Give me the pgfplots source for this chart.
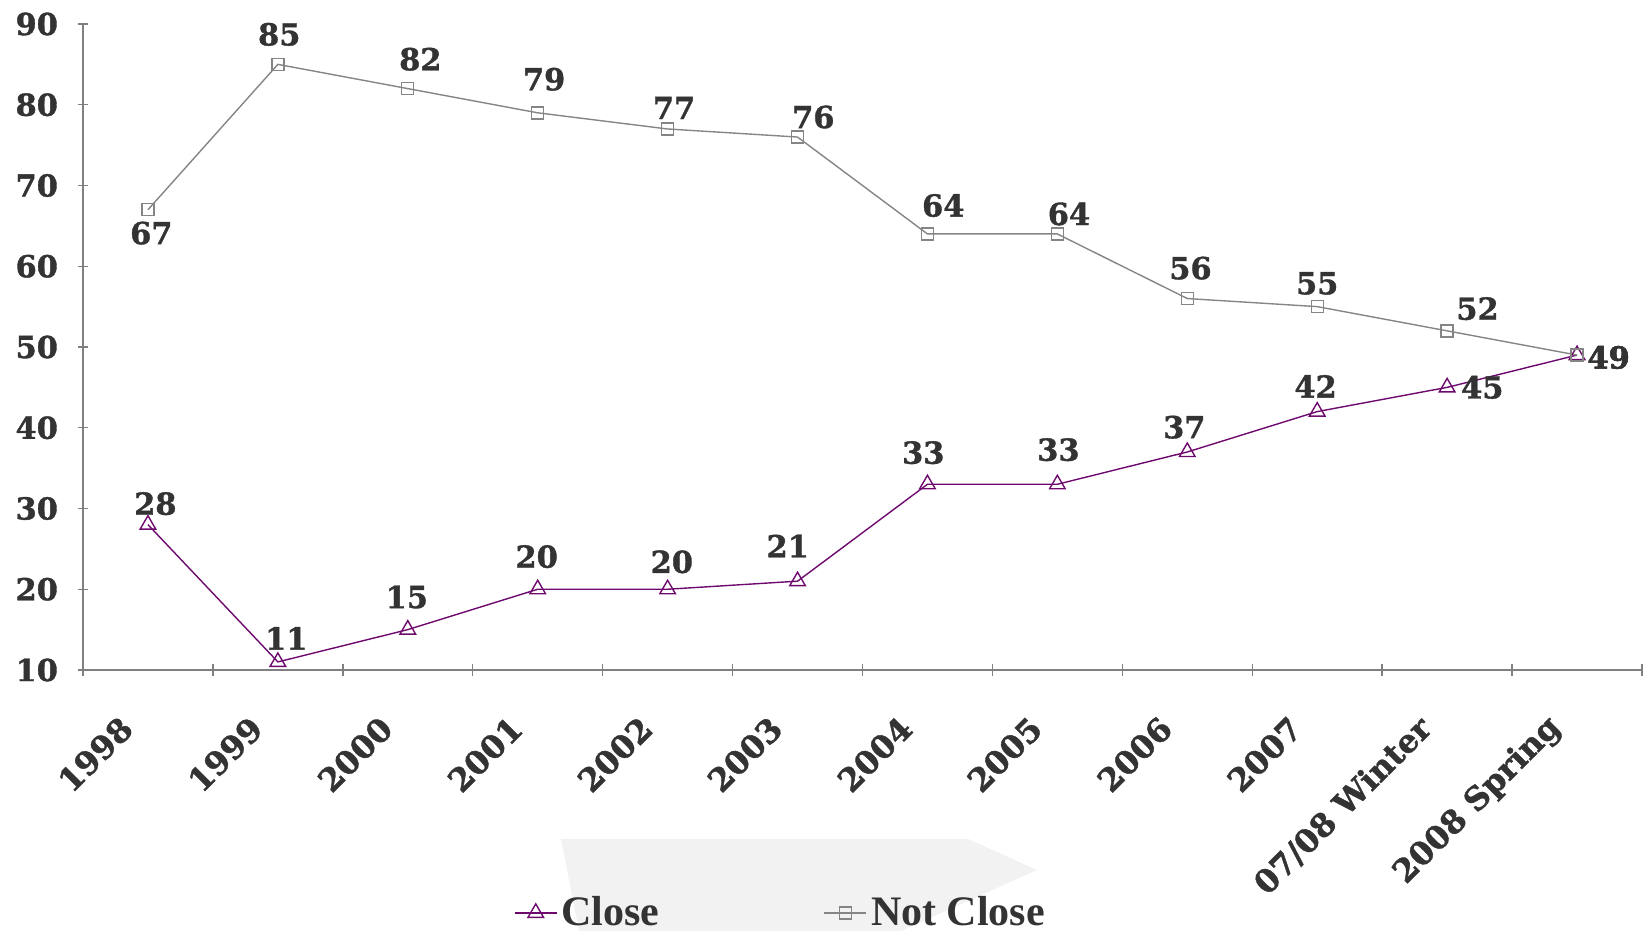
\documentclass[border=0pt]{standalone}
\usepackage{fontspec}
\setmainfont{DejaVu Serif}[BoldFeatures={FakeBold=1.2}]
\newfontfamily\legserif{Liberation Serif}
\usepackage{pgfplots}
\usepackage{pgfplotstable}
\pgfplotsset{compat=1.18}
\definecolor{closecol}{HTML}{6E0A6E}
\definecolor{notcol}{HTML}{858585}
\definecolor{axisgray}{HTML}{808080}
\definecolor{textcol}{HTML}{333333}
\definecolor{deco}{HTML}{F2F2F2}
\newcommand\labfont{\fontsize{15.2}{17}\selectfont\bfseries}
\newcommand\xlabfont{\fontsize{16}{18}\selectfont\bfseries}
\newcommand\legfont{\legserif\fontsize{21}{24}\selectfont\bfseries}

\pgfplotstableread{
x y dx dy
0 28 3.7 10.5
1 11 4.2 11.8
2 15 -0.5 16.3
3 20 -0.5 16.3
4 20 2.1 13.7
5 21 -4.9 17.6
6 33 -2.1 15.8
7 33 0.5 17.3
8 37 -1.5 12.4
9 42 -0.8 12.6
10 45 17.6 0
11 49 15.8 -1.2
}\closetab

\pgfplotstableread{
x y dx dy
0 67 1.7 -11.7
1 85 0.7 15
2 82 6.3 14.7
3 79 3.2 16.8
4 77 3.2 10.5
5 76 7.9 10
6 64 7.9 14.2
7 64 5.8 10
8 56 1.6 15.2
9 55 0 11.6
10 52 15.2 11.1
11 49 15.8 -1.2
}\notclosetab

\begin{document}
\begin{tikzpicture}
\useasboundingbox (-41.5pt,-130.5pt) rectangle (781pt,335pt);
\fill[deco] (239pt,-84.5pt) -- (442.5pt,-84.5pt) -- (477pt,-100pt) -- (409pt,-130.5pt) -- (248pt,-130.5pt) -- cycle;
\begin{axis}[
  at={(0,0)}, anchor=south west,
  scale only axis,
  width=779.5pt, height=323pt,
  xmin=-0.5, xmax=11.5,
  ymin=10, ymax=90,
  ytick={10,20,...,90},
  xtick={0,...,11},
  xticklabels={1998,1999,2000,2001,2002,2003,2004,2005,2006,2007,07/08 Winter,2008 Spring},
  minor xtick={-0.5,0.5,...,11.5},
  major x tick style={draw=none},
  minor x tick style={draw=axisgray, line width=0.7pt},
  major tick length=4.7pt,
  minor tick length=6pt,
  tick align=outside,
  ytick style={draw=axisgray, line width=0.7pt},
  axis lines=left,
  axis line style={-, draw=axisgray, line width=0.7pt},
  /pgf/number format/assume math mode=true,
  yticklabel style={font=\labfont, text=textcol, anchor=east, inner sep=0pt, xshift=-10pt},
  xticklabel style={font=\xlabfont, text=textcol, inner sep=0pt, xshift=-10.5pt, yshift=-24pt, rotate=45, anchor=east},
  clip=false,
  legend columns=2,
  legend style={draw=none, fill=none, at={(0.448,-0.376)}, anchor=center, font=\legfont, text=textcol,
    /tikz/every even column/.append style={column sep=80pt}},
  legend image code/.code={\draw[mark repeat=2,mark phase=2] plot coordinates {(0cm,0cm) (0.37cm,0cm) (0.74cm,0cm)};},
]
\addplot[color=closecol, line width=0.7pt, mark=triangle, mark size=4.5pt, mark options={solid},
  visualization depends on={\thisrow{dx}\as\dx},
  visualization depends on={\thisrow{dy}\as\dy},
  nodes near coords,
  nodes near coords style={font=\labfont, text=textcol, anchor=center, inner sep=0pt, xshift=\dx pt, yshift=\dy pt}]
  table[x=x,y=y] {\closetab};
\addlegendentry{Close}
\addplot[color=notcol, line width=0.7pt, mark=square, mark size=3pt, mark options={solid},
  visualization depends on={\thisrow{dx}\as\dx},
  visualization depends on={\thisrow{dy}\as\dy},
  nodes near coords,
  nodes near coords style={font=\labfont, text=textcol, anchor=center, inner sep=0pt, xshift=\dx pt, yshift=\dy pt}]
  table[x=x,y=y] {\notclosetab};
\addlegendentry{Not Close}
\end{axis}
\end{tikzpicture}
\end{document}
